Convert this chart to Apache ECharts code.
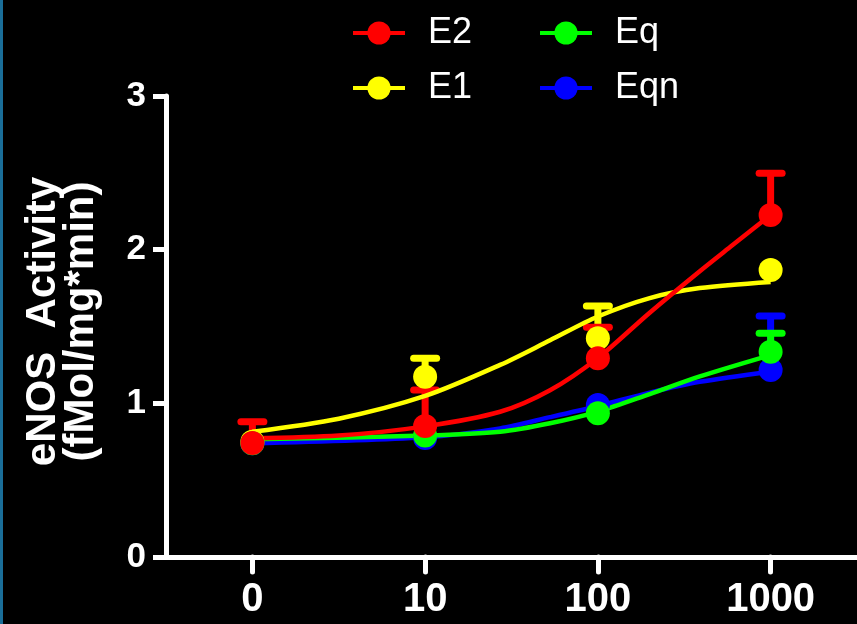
<!DOCTYPE html>
<html>
<head>
<meta charset="utf-8">
<script src="https://cdn.jsdelivr.net/npm/echarts@6/dist/echarts.min.js"></script>
<style>
  html, body { margin: 0; padding: 0; background: #000; }
  #chart { width: 857px; height: 624px; }
</style>
</head>
<body>
<div id="chart"></div>
<script>
// ---- data ----
const xTickValues = [0, 1, 2, 3];
const xTickLabels = ['0', '10', '100', '1000'];
const yTicks = [0, 1, 2, 3];

// measured points (x index 0..3 => 0, 10, 100, 1000)
const e2Means = [0.742, 0.852, 1.293, 2.226];
const e2Errs  = [0.138, 0.235, 0.202, 0.271];
const e1Means = [0.75, 1.173, 1.423, 1.868];
const e1Errs  = [0, 0.12, 0.21, 0];
const eqMeans = [0.74, 0.79, 0.935, 1.336];
const eqErrs  = [0, 0, 0, 0.12];
const eqnMeans = [0.74, 0.774, 0.989, 1.217];
const eqnErrs  = [0, 0, 0, 0.351];

// fitted curves (x position on the 0..3 axis, y value)
const e2CurveX = [0, 0.5, 1, 1.434, 1.723, 2.0, 2.30, 2.59, 2.78, 3.0];
const e2CurveY = [0.772, 0.79, 0.85, 0.945, 1.085, 1.295, 1.59, 1.86, 2.03, 2.226];
const e1CurveX = [0, 0.5, 1, 1.434, 1.723, 2.0, 2.30, 2.59, 3.0];
const e1CurveY = [0.815, 0.9, 1.048, 1.25, 1.41, 1.565, 1.685, 1.75, 1.79];
const eqCurveX = [0, 1, 1.434, 1.723, 2.0, 2.30, 2.59, 3.0];
const eqCurveY = [0.766, 0.79, 0.815, 0.87, 0.946, 1.06, 1.175, 1.314];
const eqnCurveX = [0, 1, 1.434, 1.723, 2.0, 2.30, 2.59, 3.0];
const eqnCurveY = [0.74, 0.779, 0.837, 0.91, 0.983, 1.07, 1.14, 1.206];

const groups = [
  { name: 'Eqn', color: '#0000ff', means: eqnMeans, errs: eqnErrs, cx: eqnCurveX, cy: eqnCurveY },
  { name: 'E1',  color: '#ffff00', means: e1Means,  errs: e1Errs,  cx: e1CurveX,  cy: e1CurveY },
  { name: 'Eq',  color: '#00ff00', means: eqMeans,  errs: eqErrs,  cx: eqCurveX,  cy: eqCurveY },
  { name: 'E2',  color: '#ff0000', means: e2Means,  errs: e2Errs,  cx: e2CurveX,  cy: e2CurveY }
];

const FONT = 'Liberation Sans, Arial, sans-serif';
const series = [];
groups.forEach(g => {
  series.push({
    name: g.name, type: 'line', smooth: 0.3, showSymbol: false, symbol: 'circle',
    data: g.cx.map((x, i) => [x, g.cy[i]]),
    lineStyle: { color: g.color, width: 4.5 },
    itemStyle: { color: g.color },
    silent: true, z: 2
  });
  series.push({
    name: g.name, type: 'custom', z: 2,
    data: xTickValues.map((x, i) => [x, g.means[i], g.errs[i]]),
    renderItem: (params, api) => {
      const x = api.value(0), y = api.value(1), e = api.value(2);
      if (!e) return null;
      const p0 = api.coord([x, y]);
      const p1 = api.coord([x, y + e]);
      return {
        type: 'group',
        children: [
          { type: 'line', shape: { x1: p0[0], y1: p0[1], x2: p1[0], y2: p1[1] },
            style: { stroke: g.color, lineWidth: 7 } },
          { type: 'line', shape: { x1: p1[0] - 11.5, y1: p1[1], x2: p1[0] + 11.5, y2: p1[1] },
            style: { stroke: g.color, lineWidth: 7, lineCap: 'round' } }
        ]
      };
    }
  });
  series.push({
    name: g.name, type: 'scatter', z: 2, symbol: 'circle', symbolSize: 24,
    data: xTickValues.map((x, i) => [x, g.means[i]]),
    itemStyle: { color: g.color, opacity: 1 }
  });
});

const legendCommon = {
  orient: 'vertical', itemWidth: 52, itemHeight: 29, itemGap: 19,
  lineStyle: { width: 4 },
  textStyle: { color: '#fff', fontFamily: FONT, fontSize: 36, lineHeight: 34, padding: [0, 0, 0, 18] },
  top: 10, selectedMode: false
};

const chart = echarts.init(document.getElementById('chart'), null, { renderer: 'canvas' });
chart.setOption({
  backgroundColor: '#000',
  animation: false,
  graphic: [{ type: 'rect', left: 0, top: 0, shape: { width: 3, height: 624 }, style: { fill: '#1a6e99' } }],
  legend: [
    Object.assign({}, legendCommon, { left: 346, data: ['E2', 'E1'] }),
    Object.assign({}, legendCommon, { left: 533, data: ['Eq', 'Eqn'] })
  ],
  grid: { left: 166, right: 0, top: 96, bottom: 67, containLabel: false },
  xAxis: {
    type: 'value', min: -0.5, max: 3.5,
    axisLine: { show: true, onZero: false, lineStyle: { color: '#fff', width: 5 } },
    axisTick: { show: true, customValues: xTickValues, length: 15, lineStyle: { color: '#fff', width: 5, cap: 'round' } },
    axisLabel: {
      customValues: xTickValues,
      formatter: v => xTickLabels[xTickValues.indexOf(Math.round(v))],
      color: '#fff', fontFamily: FONT, fontWeight: 'bold', fontSize: 40, margin: 23
    },
    splitLine: { show: false }
  },
  yAxis: {
    type: 'value', min: yTicks[0], max: yTicks[yTicks.length - 1], interval: 1,
    name: 'eNOS  Activity\n(fMol/mg*min)',
    nameLocation: 'middle', nameRotate: 90, nameGap: 66,
    nameTextStyle: { color: '#fff', fontFamily: FONT, fontWeight: 'bold', fontSize: 42, lineHeight: 38, padding: [0, 0, 0, 10] },
    axisLine: { show: true, onZero: false, lineStyle: { color: '#fff', width: 5 } },
    axisTick: { show: true, length: 13, lineStyle: { color: '#fff', width: 5 } },
    axisLabel: { color: '#fff', fontFamily: FONT, fontWeight: 'bold', fontSize: 35, margin: 20 },
    splitLine: { show: false }
  },
  series: series
});
</script>
</body>
</html>
